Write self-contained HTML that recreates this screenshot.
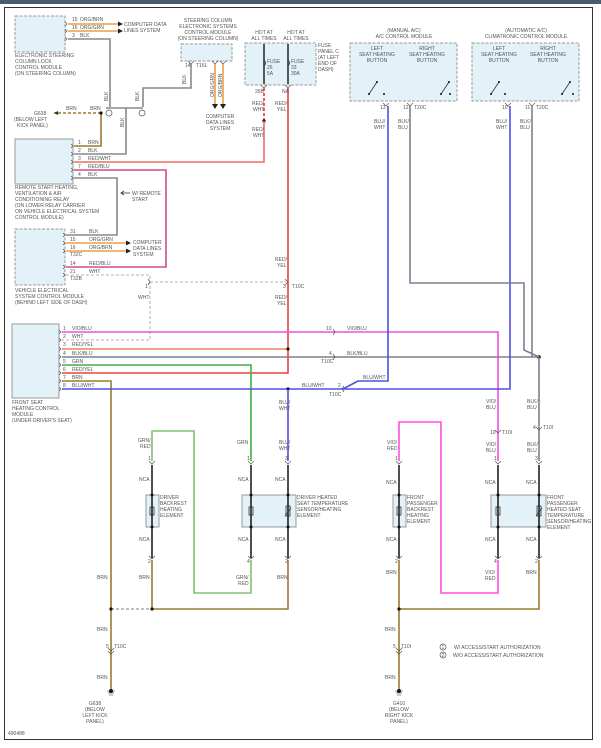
<!DOCTYPE html>
<html><head><meta charset="utf-8"><style>
html,body{margin:0;padding:0;background:#fff}
svg{display:block}
text{font-family:"Liberation Sans",sans-serif;font-size:5px;fill:#555}
.b{fill:#e2f2f8;stroke:#999;stroke-width:1;stroke-dasharray:3 1.5}
.w{fill:none;stroke-width:1.6;stroke-linejoin:miter}
</style></head><body>
<svg width="601" height="748" viewBox="0 0 601 748" xmlns="http://www.w3.org/2000/svg">
<defs>
<pattern id="p" width="3" height="3" patternUnits="userSpaceOnUse"><rect width="3" height="3" fill="#dff0f8"/><rect width="1" height="1" fill="#cfe6f2"/></pattern>
</defs>
<rect x="0" y="0" width="601" height="4" fill="#4a5a70"/>
<rect x="4.5" y="7.5" width="588" height="732" fill="none" stroke="#333" stroke-width="1"/>

<!-- module boxes -->
<rect class="b" x="15" y="16" width="50" height="36" fill="url(#p)"/>
<rect class="b" x="181" y="44" width="51" height="17" fill="url(#p)"/>
<rect class="b" x="245" y="43" width="71" height="42" fill="url(#p)"/>
<rect class="b" x="15" y="139" width="58" height="45" fill="url(#p)" style="stroke-dasharray:none"/>
<rect class="b" x="15" y="229" width="50" height="56" fill="url(#p)"/>
<rect class="b" x="350" y="43" width="107" height="58" fill="url(#p)"/>
<rect class="b" x="472" y="43" width="107" height="58" fill="url(#p)"/>
<rect class="b" x="12" y="324" width="47" height="74" fill="url(#p)" style="stroke-dasharray:none"/>
<rect class="b" x="146" y="495" width="13" height="32" fill="url(#p)" style="stroke-dasharray:none"/>
<rect class="b" x="242" y="495" width="54" height="32" fill="url(#p)" style="stroke-dasharray:none"/>
<rect class="b" x="393" y="495" width="13" height="32" fill="url(#p)" style="stroke-dasharray:none"/>
<rect class="b" x="491" y="495" width="55" height="32" fill="url(#p)" style="stroke-dasharray:none"/>

<!-- wires top-left -->
<path class="w" stroke="#e8a040" d="M68 24H118M68 31H118"/>
<polygon points="118,21.5 123,24 118,26.5" fill="#222"/><polygon points="118,28.5 123,31 118,33.5" fill="#222"/>
<path class="w" stroke="#888" d="M68 39H110V107M106 108H143M143 107V88H191V64M126 108V154H74"/>
<path class="w" stroke="#e8a040" d="M215 64V104M223 64V104"/>
<polygon points="212,104 218,104 215,109" fill="#222"/><polygon points="220,104 226,104 223,109" fill="#222"/>
<path class="w" stroke="#333" stroke-width="1" d="M264 44V84M288 44V84"/>
<path class="w" stroke="#e33" stroke-dasharray="3 2" d="M264 88V121"/>
<circle cx="264" cy="121" r="1.6" fill="#111"/>
<path class="w" stroke="#f06a6a" d="M264 121V162H74"/>
<path class="w" stroke="#e84040" d="M288 88V373H62"/>
<path class="w" stroke="#9a7a30" d="M74 146H101V113"/>
<path class="w" stroke="#9a7a30" stroke-dasharray="3 2" d="M101 113H54"/>
<circle cx="101" cy="113" r="1.6" fill="#111"/>
<path class="w" stroke="#d04a90" d="M74 170H166V267H66"/>
<path class="w" stroke="#888" d="M74 178H117V235H66"/>
<path class="w" stroke="#e8a040" d="M66 243H126M66 251H126"/>
<polygon points="126,240.5 131,243 126,245.5" fill="#222"/><polygon points="126,248.5 131,251 126,253.5" fill="#222"/>
<path class="w" stroke="#ccc" stroke-dasharray="3 2" d="M66 275H150V340H62M150 282H286"/>
<path d="M130 193H121M124 191L121 193L124 195" stroke="#333" fill="none" stroke-width=".8"/>

<!-- front seat module wires -->
<path class="w" stroke="#f050e0" d="M62 332H498V461"/>
<path class="w" stroke="#f08060" d="M62 349H288"/>
<circle cx="288" cy="349" r="1.6" fill="#111"/>
<path class="w" stroke="#7a8090" d="M62 357H539"/>
<circle cx="539" cy="357" r="1.8" fill="#111"/>
<path class="w" stroke="#40b040" d="M62 365H251V461"/>
<path class="w" stroke="#9a7a30" d="M62 381H111V689"/>
<path class="w" stroke="#5050e0" d="M62 389H343L358 381H388V106M343 389H510V106"/>
<circle cx="288" cy="389" r="1.6" fill="#111"/>
<path class="w" stroke="#5050e0" d="M288 389V461"/>
<path class="w" stroke="#7a8090" d="M410 106V283H524V350L539 357M532 106V357M539 357V461"/>

<!-- element pins -->
<path class="w" stroke="#80c070" d="M152 461V431H194V593H251V560"/>
<path class="w" stroke="#ff50e0" d="M399 461V422H441V593H498V560"/>
<path class="w" stroke="#222" d="M152 465V558M251 465V558M288 465V558M399 465V558M498 465V558M539 465V558"/>
<path class="w" stroke="#9a7a30" d="M152 560V609H288V560M399 560V689M399 609H539V560"/>
<path class="w" stroke="#aaa" stroke-dasharray="3 2" d="M111 609H152"/>
<g fill="#111">
<circle cx="111" cy="609" r="1.6"/><circle cx="152" cy="609" r="1.6"/><circle cx="399" cy="609" r="1.6"/>
<circle cx="152" cy="495" r="1.5"/><circle cx="152" cy="527" r="1.5"/><circle cx="251" cy="495" r="1.5"/><circle cx="251" cy="527" r="1.5"/>
<circle cx="288" cy="495" r="1.5"/><circle cx="288" cy="527" r="1.5"/><circle cx="399" cy="495" r="1.5"/><circle cx="399" cy="527" r="1.5"/>
<circle cx="498" cy="495" r="1.5"/><circle cx="498" cy="527" r="1.5"/><circle cx="539" cy="495" r="1.5"/><circle cx="539" cy="527" r="1.5"/>
<circle cx="111" cy="691" r="2"/><circle cx="399" cy="691" r="2"/>
</g>
<g fill="none" stroke="#555" stroke-width=".7">
<path d="M149 461l3 3 3-3M248 461l3 3 3-3M285 461l3 3 3-3M396 461l3 3 3-3M495 461l3 3 3-3M536 461l3 3 3-3"/>
<path d="M149 556l3 3 3-3M248 556l3 3 3-3M285 556l3 3 3-3M396 556l3 3 3-3M495 556l3 3 3-3M536 556l3 3 3-3"/>
<path d="M108 648l3 3 3-3M108 651l3 3 3-3M396 648l3 3 3-3M396 651l3 3 3-3M495 430l3 3 3-3M536 427l3 3 3-3"/>
<path d="M333 329l2 3-2 3M333 354l2 3-2 3M285 279l3 3-3 3M148 279l2 3-2 3M344 386l-2 3 2 3"/>
<path d="M383 103l3 3 3-3M407 103l3 3 3-3M505 103l3 3 3-3M529 103l3 3 3-3M261 85l3 3 3-3M285 85l3 3 3-3M188 61l3 3 3-3M212 61l3 3 3-3M220 61l3 3 3-3"/>
<path d="M65 22l2 2-2 2M65 29l2 2-2 2M65 37l2 2-2 2M71 144l2 2-2 2M71 152l2 2-2 2M71 160l2 2-2 2M71 168l2 2-2 2M71 176l2 2-2 2M63 233l2 2-2 2M63 241l2 2-2 2M63 249l2 2-2 2M63 265l2 2-2 2M63 273l2 2-2 2M59 330l2 2-2 2M59 338l2 2-2 2M59 347l2 2-2 2M59 355l2 2-2 2M59 363l2 2-2 2M59 371l2 2-2 2M59 379l2 2-2 2M59 387l2 2-2 2"/>
<circle cx="109" cy="113" r="3"/><circle cx="142" cy="113" r="3"/>
<circle cx="443" cy="647" r="3"/><circle cx="443" cy="655" r="3"/>
</g>
<!-- fuses, switches, elements -->
<g fill="none" stroke="#333" stroke-width=".8">
<path d="M264 60q3 3 0 6M288 60q3 3 0 6"/>
<path d="M369 94l8-12M441 94l8-12M491 94l8-12M562 94l8-12"/>
<rect x="150" y="507" width="4" height="8"/><rect x="249" y="507" width="4" height="8"/><rect x="397" y="507" width="4" height="8"/><rect x="496" y="507" width="4" height="8"/>
<path d="M285 516l6-8M536 516l6-8"/><rect x="286" y="506" width="4" height="10"/><rect x="537" y="506" width="4" height="10"/>
</g>
<g fill="#111"><circle cx="369" cy="94" r="1"/><circle cx="377" cy="82" r="1"/><circle cx="384" cy="94" r="1"/><circle cx="441" cy="94" r="1"/><circle cx="449" cy="82" r="1"/><circle cx="456" cy="94" r="1" transform="translate(-6 0)"/><circle cx="491" cy="94" r="1"/><circle cx="499" cy="82" r="1"/><circle cx="505" cy="94" r="1"/><circle cx="562" cy="94" r="1"/><circle cx="570" cy="82" r="1"/><circle cx="577" cy="94" r="1" transform="translate(-4 0)"/></g>
<path d="M107 691h8M108 693h6M109 695h4M395 691h8M396 693h6M397 695h4" stroke="#333" stroke-width=".6"/>
<path d="M54 113l4-2v4z" fill="#333"/>

<!-- text -->
<text x="72" y="21">15</text><text x="80" y="21">ORG/BRN</text>
<text x="72" y="29">16</text><text x="80" y="29">ORG/GRN</text>
<text x="72" y="37">3</text><text x="80" y="37">BLK</text>
<text x="124" y="26">COMPUTER DATA</text><text x="124" y="32">LINES SYSTEM</text>
<text x="15" y="57">ELECTRONIC STEERING</text><text x="15" y="63">COLUMN LOCK</text><text x="15" y="69">CONTROL MODULE</text><text x="15" y="75">(ON STEERING COLUMN)</text>
<g text-anchor="middle"><text x="208" y="22">STEERING COLUMN</text><text x="208" y="28">ELECTRONIC SYSTEMS</text><text x="208" y="34">CONTROL MODULE</text><text x="208" y="40">(ON STEERING COLUMN)</text>
<text x="220" y="118">COMPUTER</text><text x="220" y="124">DATA LINES</text><text x="220" y="130">SYSTEM</text>
<text x="264" y="34">HOT AT</text><text x="264" y="40">ALL TIMES</text><text x="296" y="34">HOT AT</text><text x="296" y="40">ALL TIMES</text>
<text x="404" y="32">(MANUAL A/C)</text><text x="404" y="38">A/C CONTROL MODULE</text>
<text x="526" y="32">(AUTOMATIC A/C)</text><text x="526" y="38">CLIMATRONIC CONTROL MODULE</text>
<text x="377" y="50">LEFT</text><text x="377" y="56">SEAT HEATING</text><text x="377" y="62">BUTTON</text>
<text x="427" y="50">RIGHT</text><text x="427" y="56">SEAT HEATING</text><text x="427" y="62">BUTTON</text>
<text x="499" y="50">LEFT</text><text x="499" y="56">SEAT HEATING</text><text x="499" y="62">BUTTON</text>
<text x="548" y="50">RIGHT</text><text x="548" y="56">SEAT HEATING</text><text x="548" y="62">BUTTON</text>
<text x="95" y="705">G638</text><text x="95" y="711">(BELOW</text><text x="95" y="717">LEFT KICK</text><text x="95" y="723">PANEL)</text>
<text x="399" y="705">G410</text><text x="399" y="711">(BELOW</text><text x="399" y="717">RIGHT KICK</text><text x="399" y="723">PANEL)</text>
</g>
<text x="185" y="67">14</text><text x="196" y="67">T16L</text>
<text transform="translate(186 84) rotate(-90)">BLK</text>
<text transform="translate(214 97) rotate(-90)">ORG/GRN</text><text transform="translate(222 97) rotate(-90)">ORG/BRN</text>
<text transform="translate(108 101) rotate(-90)">BLK</text><text transform="translate(139 101) rotate(-90)">BLK</text><text transform="translate(124 127) rotate(-90)">BLK</text>
<text x="267" y="63">FUSE</text><text x="267" y="69">26</text><text x="267" y="75">5A</text>
<text x="291" y="63">FUSE</text><text x="291" y="69">33</text><text x="291" y="75">30A</text>
<text x="318" y="47">FUSE</text><text x="318" y="53">PANEL C</text><text x="318" y="59">(AT LEFT</text><text x="318" y="65">END OF</text><text x="318" y="71">DASH)</text>
<text x="255" y="93">26B</text><text x="282" y="93">NA</text>
<text x="252" y="105">RED/</text><text x="253" y="111">WHT</text><text x="275" y="105">RED/</text><text x="277" y="111">YEL</text>
<text x="252" y="131">RED/</text><text x="253" y="137">WHT</text>
<text x="275" y="261">RED/</text><text x="277" y="267">YEL</text><text x="275" y="299">RED/</text><text x="277" y="305">YEL</text>
<text x="66" y="110">BRN</text><text x="90" y="110">BRN</text>
<text x="34" y="115">G638</text><text x="14" y="121">(BELOW LEFT</text><text x="17" y="127">KICK PANEL)</text>
<text x="78" y="144">1</text><text x="88" y="144">BRN</text>
<text x="78" y="152">2</text><text x="88" y="152">BLK</text>
<text x="78" y="160">3</text><text x="88" y="160">RED/WHT</text>
<text x="78" y="168">7</text><text x="88" y="168">RED/BLU</text>
<text x="78" y="176">4</text><text x="88" y="176">BLK</text>
<text x="15" y="189">REMOTE START HEATING,</text><text x="15" y="195">VENTILATION &amp; AIR</text><text x="15" y="201">CONDITIONING RELAY</text><text x="15" y="207">(ON LOWER RELAY CARRIER</text><text x="15" y="213">ON VEHICLE ELECTRICAL SYSTEM</text><text x="15" y="219">CONTROL MODULE)</text>
<text x="132" y="195">W/ REMOTE</text><text x="132" y="201">START</text>
<text x="70" y="233">31</text><text x="89" y="233">BLK</text>
<text x="70" y="241">15</text><text x="89" y="241">ORG/GRN</text>
<text x="70" y="249">16</text><text x="89" y="249">ORG/BRN</text><text x="70" y="256">T32C</text>
<text x="70" y="265">14</text><text x="89" y="265">RED/BLU</text>
<text x="70" y="273">21</text><text x="89" y="273">WHT</text><text x="70" y="280">T32B</text>
<text x="133" y="244">COMPUTER</text><text x="133" y="250">DATA LINES</text><text x="133" y="256">SYSTEM</text>
<text x="15" y="292">VEHICLE ELECTRICAL</text><text x="15" y="298">SYSTEM CONTROL MODULE</text><text x="15" y="304">(BEHIND LEFT SIDE OF DASH)</text>
<text x="145" y="288">1</text><text x="138" y="299">WHT</text>
<text x="283" y="288">3</text><text x="292" y="288">T10C</text>
<text x="63" y="330">1</text><text x="72" y="330">VIO/BLU</text>
<text x="63" y="338">2</text><text x="72" y="338">WHT</text>
<text x="63" y="346">3</text><text x="72" y="346">RED/YEL</text>
<text x="63" y="355">4</text><text x="72" y="355">BLK/BLU</text>
<text x="63" y="363">5</text><text x="72" y="363">GRN</text>
<text x="63" y="371">6</text><text x="72" y="371">RED/YEL</text>
<text x="63" y="379">7</text><text x="72" y="379">BRN</text>
<text x="63" y="387">8</text><text x="72" y="387">BLU/WHT</text>
<text x="12" y="404">FRONT SEAT</text><text x="12" y="410">HEATING CONTROL</text><text x="12" y="416">MODULE</text><text x="12" y="422">(UNDER DRIVER'S SEAT)</text>
<text x="326" y="330">10</text><text x="347" y="330">VIO/BLU</text>
<text x="329" y="355">4</text><text x="347" y="355">BLK/BLU</text><text x="321" y="363">T10C</text>
<text x="338" y="387">2</text><text x="329" y="396">T10C</text><text x="302" y="387">BLU/WHT</text><text x="363" y="379">BLU/WHT</text>
<text x="374" y="123">BLU/</text><text x="374" y="129">WHT</text><text x="398" y="123">BLK/</text><text x="398" y="129">BLU</text>
<text x="496" y="123">BLU/</text><text x="496" y="129">WHT</text><text x="520" y="123">BLK/</text><text x="520" y="129">BLU</text>
<text x="380" y="109">13</text><text x="403" y="109">12</text><text x="414" y="109">T20C</text>
<text x="502" y="109">10</text><text x="525" y="109">11</text><text x="536" y="109">T20C</text>
<text x="279" y="404">BLU/</text><text x="279" y="410">WHT</text>
<text x="486" y="403">VIO/</text><text x="486" y="409">BLU</text><text x="527" y="403">BLK/</text><text x="527" y="409">BLU</text>
<text x="490" y="434">10</text><text x="502" y="434">T10I</text><text x="533" y="429">4</text><text x="543" y="429">T10I</text>
<text x="486" y="446">VIO/</text><text x="486" y="452">BLU</text><text x="527" y="446">BLK/</text><text x="527" y="452">BLU</text>
<text x="138" y="442">GRN/</text><text x="140" y="448">RED</text><text x="237" y="444">GRN</text><text x="279" y="444">BLU/</text><text x="279" y="450">WHT</text>
<text x="387" y="444">VIO/</text><text x="387" y="450">RED</text>
<text x="148" y="460">1</text><text x="247" y="460">1</text><text x="285" y="460">3</text><text x="395" y="460">1</text><text x="494" y="460">1</text><text x="535" y="460">3</text>
<text x="139" y="481">NCA</text><text x="238" y="481">NCA</text><text x="275" y="481">NCA</text><text x="386" y="484">NCA</text><text x="485" y="484">NCA</text><text x="526" y="484">NCA</text>
<text x="139" y="541">NCA</text><text x="238" y="541">NCA</text><text x="275" y="541">NCA</text><text x="386" y="541">NCA</text><text x="485" y="541">NCA</text><text x="526" y="541">NCA</text>
<text x="160" y="499">DRIVER</text><text x="160" y="505">BACKREST</text><text x="160" y="511">HEATING</text><text x="160" y="517">ELEMENT</text>
<text x="297" y="499">DRIVER HEATED</text><text x="297" y="505">SEAT TEMPERATURE</text><text x="297" y="511">SENSOR/HEATING</text><text x="297" y="517">ELEMENT</text>
<text x="407" y="499">FRONT</text><text x="407" y="505">PASSENGER</text><text x="407" y="511">BACKREST</text><text x="407" y="517">HEATING</text><text x="407" y="523">ELEMENT</text>
<text x="547" y="499">FRONT</text><text x="547" y="505">PASSENGER</text><text x="547" y="511">HEATED SEAT</text><text x="547" y="517">TEMPERATURE</text><text x="547" y="523">SENSOR/HEATING</text><text x="547" y="529">ELEMENT</text>
<text x="148" y="563">2</text><text x="247" y="563">4</text><text x="285" y="563">2</text><text x="395" y="563">2</text><text x="494" y="563">4</text><text x="535" y="563">2</text>
<text x="97" y="579">BRN</text><text x="139" y="579">BRN</text><text x="236" y="579">GRN/</text><text x="238" y="585">RED</text><text x="277" y="579">BRN</text>
<text x="386" y="574">BRN</text><text x="485" y="574">VIO/</text><text x="485" y="580">RED</text><text x="526" y="574">BRN</text>
<text x="97" y="631">BRN</text><text x="97" y="679">BRN</text><text x="385" y="631">BRN</text><text x="385" y="679">BRN</text>
<text x="106" y="648">5</text><text x="114" y="648">T10C</text><text x="393" y="648">5</text><text x="401" y="648">T10I</text>
<text x="441.5" y="649" font-size="4">1</text><text x="441.5" y="657" font-size="4">2</text>
<text x="454" y="649">W/ ACCESS/START AUTHORIZATION</text><text x="453" y="657">W/O ACCESS/START AUTHORIZATION</text>
<text x="8" y="735">490488</text>
</svg>
</body></html>
